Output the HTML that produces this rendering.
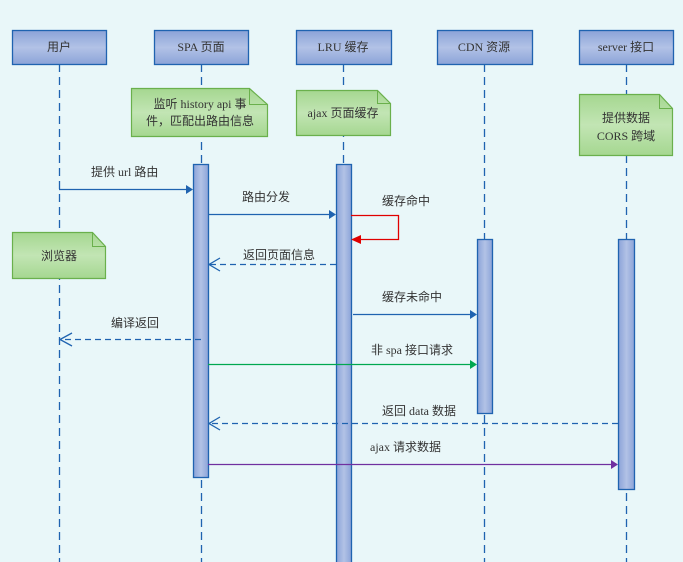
<!DOCTYPE html>
<html><head><meta charset="utf-8"><style>
html,body{margin:0;padding:0;background:#e9f7f9;}
svg{display:block;}
text{font-family:"Liberation Serif","Noto Sans CJK SC",sans-serif;font-size:12px;fill:#333;}
</style></head><body>
<svg width="683" height="562" viewBox="0 0 683 562" xmlns="http://www.w3.org/2000/svg">
<defs>
<linearGradient id="hb" x1="0" y1="0" x2="0" y2="1">
<stop offset="0" stop-color="#8ba3d8"/><stop offset="0.5" stop-color="#b2c2e6"/><stop offset="1" stop-color="#8ba3d8"/></linearGradient>
<linearGradient id="ab" x1="0" y1="0" x2="1" y2="0">
<stop offset="0" stop-color="#8ba3d8"/><stop offset="0.5" stop-color="#b2c2e6"/><stop offset="1" stop-color="#8ba3d8"/></linearGradient>
<linearGradient id="gn" x1="0" y1="0" x2="0" y2="1">
<stop offset="0" stop-color="#a5d790"/><stop offset="0.5" stop-color="#c2e5b4"/><stop offset="1" stop-color="#a5d790"/></linearGradient>
</defs>
<rect width="683" height="562" fill="#e9f7f9"/>
<g stroke="#1f63b0" stroke-width="1.3" stroke-dasharray="8,5">
<line x1="59.5" y1="64" x2="59.5" y2="562"/>
<line x1="201.5" y1="64" x2="201.5" y2="562"/>
<line x1="343.5" y1="64" x2="343.5" y2="562"/>
<line x1="484.5" y1="64" x2="484.5" y2="562"/>
<line x1="626.5" y1="64" x2="626.5" y2="562"/>
</g>
<g stroke="#1f63b0" stroke-width="1.3" fill="url(#hb)">
<rect x="12.5" y="30.5" width="94" height="34"/>
<rect x="154.5" y="30.5" width="94" height="34"/>
<rect x="296.5" y="30.5" width="95" height="34"/>
<rect x="437.5" y="30.5" width="95" height="34"/>
<rect x="579.5" y="30.5" width="94" height="34"/>
</g>
<g text-anchor="middle">
<text x="59" y="51">用户</text>
<text x="201" y="51">SPA 页面</text>
<text x="343" y="51">LRU 缓存</text>
<text x="484" y="51">CDN 资源</text>
<text x="626" y="51">server 接口</text>
</g>
<g stroke="#6ab04c" stroke-width="1.2" fill="url(#gn)">
<path d="M131.5 88.5 H249.5 L267.5 104.5 V136.5 H131.5 Z"/>
<path d="M296.5 90.5 H377.5 L390.5 103.5 V135.5 H296.5 Z"/>
<path d="M579.5 94.5 H659.5 L672.5 108.5 V155.5 H579.5 Z"/>
<path d="M12.5 232.5 H92.5 L105.5 246.5 V278.5 H12.5 Z"/>
</g>
<g fill="none" stroke="#6ab04c" stroke-width="1"><path d="M249.5 88.5 V104.5 H267.5"/><path d="M377.5 90.5 V103.5 H390.5"/><path d="M659.5 94.5 V108.5 H672.5"/><path d="M92.5 232.5 V246.5 H105.5"/></g>
<g text-anchor="middle">
<text x="200" y="108">监听 history api 事</text>
<text x="200" y="125">件，匹配出路由信息</text>
<text x="343" y="117">ajax 页面缓存</text>
<text x="626" y="122">提供数据</text>
<text x="626" y="140">CORS 跨域</text>
<text x="59" y="260">浏览器</text>
</g>
<g stroke="#1f63b0" stroke-width="1.3" fill="url(#ab)">
<rect x="193.5" y="164.5" width="15" height="313"/>
<rect x="336.5" y="164.5" width="15" height="400"/>
<rect x="477.5" y="239.5" width="15" height="174"/>
<rect x="618.5" y="239.5" width="16" height="250"/>
</g>
<g stroke-width="1.3" fill="none">
<line x1="59" y1="189.5" x2="188" y2="189.5" stroke="#1f63b0"/>
<line x1="208" y1="214.5" x2="330" y2="214.5" stroke="#1f63b0"/>
<path d="M351 215.5 H398.5 V239.5 H358" stroke="#e00000"/>
<line x1="336" y1="264.5" x2="210" y2="264.5" stroke="#1f63b0" stroke-dasharray="6,4"/>
<path d="M220 258 L209 264.5 L220 271" stroke="#1f63b0"/>
<line x1="353" y1="314.5" x2="472" y2="314.5" stroke="#1f63b0"/>
<line x1="201" y1="339.5" x2="61" y2="339.5" stroke="#1f63b0" stroke-dasharray="6,4"/>
<path d="M72 333 L60 339.5 L72 346" stroke="#1f63b0"/>
<line x1="208" y1="364.5" x2="472" y2="364.5" stroke="#00a850"/>
<line x1="618" y1="423.5" x2="210" y2="423.5" stroke="#1f63b0" stroke-dasharray="6,4"/>
<path d="M220 417 L209 423.5 L220 430" stroke="#1f63b0"/>
<line x1="208" y1="464.5" x2="612" y2="464.5" stroke="#7030a0"/>
</g>
<g stroke="none">
<path d="M193 189.5 L186 185 L186 194 Z" fill="#1f63b0"/>
<path d="M336 214.5 L329 210 L329 219 Z" fill="#1f63b0"/>
<path d="M351 239.5 L361 235 L361 244 Z" fill="#e00000"/>
<path d="M477 314.5 L470 310 L470 319 Z" fill="#1f63b0"/>
<path d="M477 364.5 L470 360 L470 369 Z" fill="#00a850"/>
<path d="M618 464.5 L611 460 L611 469 Z" fill="#7030a0"/>
</g>
<g>
<text x="91" y="176">提供 url 路由</text>
<text x="242" y="201">路由分发</text>
<text x="382" y="205">缓存命中</text>
<text x="243" y="259">返回页面信息</text>
<text x="382" y="301">缓存未命中</text>
<text x="111" y="327">编译返回</text>
<text x="371" y="354">非 spa 接口请求</text>
<text x="382" y="415">返回 data 数据</text>
<text x="370" y="451">ajax 请求数据</text>
</g>
</svg>
</body></html>
